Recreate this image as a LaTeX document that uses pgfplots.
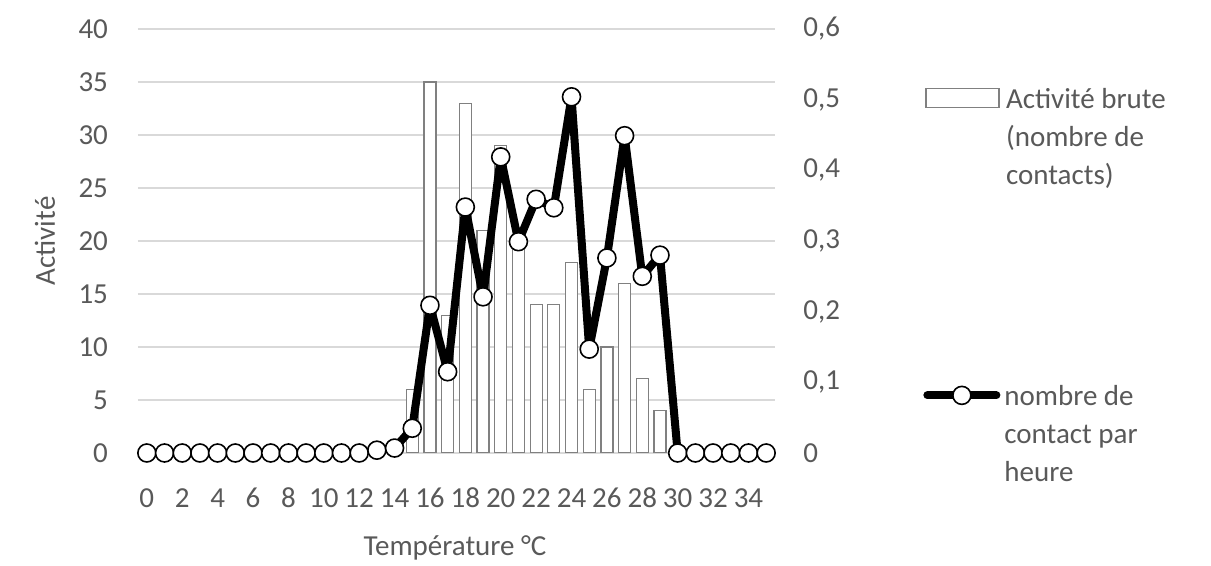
\documentclass[border=0pt]{standalone}
\usepackage{fontspec}
\setmainfont{Carlito}
\usepackage{pgfplots}
\pgfplotsset{compat=1.18}
\definecolor{txt}{HTML}{595959}
\definecolor{grd}{HTML}{D9D9D9}
\definecolor{barc}{HTML}{808080}
\begin{document}
\fontsize{14.5pt}{19pt}\selectfont
\begin{tikzpicture}
\useasboundingbox (-69pt,-56.5pt) rectangle (536.5pt,226.5pt);
\begin{axis}[
  scale only axis, width=318.5pt, height=212pt,
  at={(0,0)}, anchor=south west,
  xmin=-0.5, xmax=35.5, ymin=0, ymax=40,
  ytick={0,5,...,40}, xtick={0,2,...,34},
  axis line style={draw=none}, major tick length=0pt,
  ymajorgrids, grid style={grd, line width=0.9pt},
  ybar, bar width=6pt,
  tick label style={text=txt, /pgf/number format/assume math mode=true},
  xticklabel style={yshift=-12.7pt, text height=1.4ex, text depth=0pt},
  yticklabel style={xshift=-10pt},
  ylabel={Activité},
  ylabel style={at={(axis description cs:-0.146,0.5)}, anchor=center, text=txt},
  xlabel={Température °C},
  xlabel style={at={(axis description cs:0.4976,-0.224)}, anchor=center, text=txt},
  legend style={at={(axis description cs:1.2355,0.8764)}, anchor=north west,
    draw=none, fill=none, inner sep=0pt, column sep=3pt,
    cells={anchor=base west}, nodes={inner sep=0pt, text=txt},
    font=\fontsize{14.5pt}{19pt}\selectfont},
  legend image code/.code={\draw[draw=barc, fill=white, line width=0.8pt] (0pt,0.5pt) rectangle (36.5pt,10pt);},
]
\addplot[draw=barc, fill=white, line width=0.6pt] coordinates {
 (15,6) (16,35) (17,13) (18,33) (19,21) (20,29) (21,20) (22,14) (23,14)
 (24,18) (25,6) (26,10) (27,16) (28,7) (29,4)};
\addlegendentry{\begin{tabular}[t]{@{}l@{}}Activité brute\\(nombre de\\contacts)\end{tabular}}
\end{axis}
\begin{axis}[
  scale only axis, width=318.5pt, height=212pt,
  at={(0,0)}, anchor=south west,
  xmin=-0.5, xmax=35.5, ymin=0, ymax=0.6,
  ytick={0,0.1,0.2,0.3,0.4,0.5,0.6},
  axis y line*=right, axis x line=none,
  axis line style={draw=none}, major tick length=0pt,
  tick label style={text=txt},
  yticklabel style={xshift=9.2pt, /pgf/number format/.cd, fixed, precision=1, use comma, assume math mode=true},
  legend style={at={(axis description cs:1.2323,0.176)}, anchor=north west,
    draw=none, fill=none, inner sep=0pt, column sep=2pt,
    cells={anchor=base west}, nodes={inner sep=0pt, text=txt},
    font=\fontsize{14.5pt}{19pt}\selectfont},
  legend image code/.code={
    \draw[#1, line cap=round] (2pt,5pt) -- (36.5pt,5pt);
    \draw[#1] plot coordinates {(19.25pt,5pt)};},
]
\addplot[black, line width=4pt, line join=round, mark=*, mark size=4.5pt,
  mark options={fill=white, draw=black, line width=0.8pt}] coordinates {
 (0,0) (1,0) (2,0) (3,0) (4,0) (5,0) (6,0) (7,0) (8,0) (9,0) (10,0) (11,0) (12,0)
 (13,0.004) (14,0.007) (15,0.035) (16,0.209) (17,0.115) (18,0.348) (19,0.221)
 (20,0.419) (21,0.299) (22,0.359) (23,0.347) (24,0.504) (25,0.147) (26,0.276)
 (27,0.449) (28,0.250) (29,0.280) (30,0) (31,0) (32,0) (33,0) (34,0) (35,0)};
\addlegendentry{\begin{tabular}[t]{@{}l@{}}nombre de\\contact par\\heure\end{tabular}}
\end{axis}
\end{tikzpicture}
\end{document}
